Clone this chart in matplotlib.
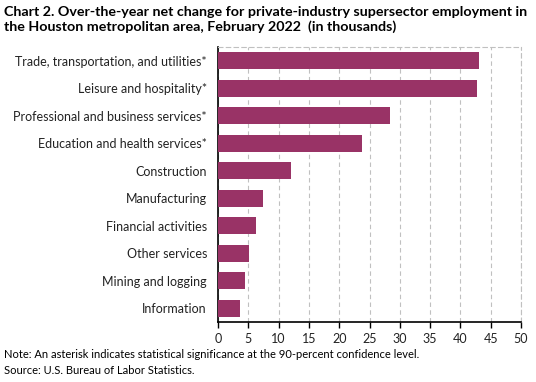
import matplotlib
matplotlib.use("Agg")
import matplotlib.pyplot as plt

categories = ["Trade, transportation, and utilities*",
              "Leisure and hospitality*",
              "Professional and business services*",
              "Education and health services*",
              "Construction",
              "Manufacturing",
              "Financial activities",
              "Other services",
              "Mining and logging",
              "Information"]
values = [43.0, 42.8, 28.4, 23.8, 12.1, 7.5, 6.2, 5.1, 4.4, 3.6]
xticks = list(range(0, 51, 5))

plt.rcParams['font.family'] = ['Lato', 'DejaVu Sans']

fig = plt.figure(figsize=(5.36, 3.82), dpi=100)
ax = fig.add_axes([218/536, 1 - 322/382, (521 - 218)/536, (322 - 47)/382])

ypos = list(range(len(categories)))
ax.barh(ypos, values, height=0.63, color="#993366", zorder=3)
ax.set_ylim(len(categories) - 0.5, -0.5)
ax.set_yticks(ypos)
ax.set_yticklabels(categories, fontsize=9, color="#222222")
ax.tick_params(axis='y', length=0, pad=8)

ax.set_xlim(0, 50)
ax.set_xticks(xticks)
ax.set_xticklabels([str(t) for t in xticks], fontsize=9, color="#222222")
ax.tick_params(axis='x', length=4, width=1, color="black", direction='out', pad=4)

ax.grid(axis='x', color="#c0c0c0", linestyle=(0, (4, 3)), linewidth=0.8, zorder=0)
for side in ['top', 'right']:
    ax.spines[side].set_color("#c0c0c0")
    ax.spines[side].set_linestyle((0, (4, 3)))
    ax.spines[side].set_linewidth(0.8)
ax.spines['left'].set_color("black")
ax.spines['bottom'].set_color("black")
ax.spines['left'].set_linewidth(1.2)
ax.spines['bottom'].set_linewidth(1.2)

fig.text(0.008, 0.985,
         "Chart 2. Over-the-year net change for private-industry supersector employment in\n"
         "the Houston metropolitan area, February 2022  (in thousands)",
         fontsize=10.3, fontweight='bold', va='top', ha='left', linespacing=1.25)
fig.text(0.008, 1 - 355/382,
         "Note: An asterisk indicates statistical significance at the 90-percent confidence level.",
         fontsize=8, va='center', ha='left')
fig.text(0.008, 1 - 371/382, "Source: U.S. Bureau of Labor Statistics.",
         fontsize=8, va='center', ha='left')

fig.savefig("out.png", dpi=100)
